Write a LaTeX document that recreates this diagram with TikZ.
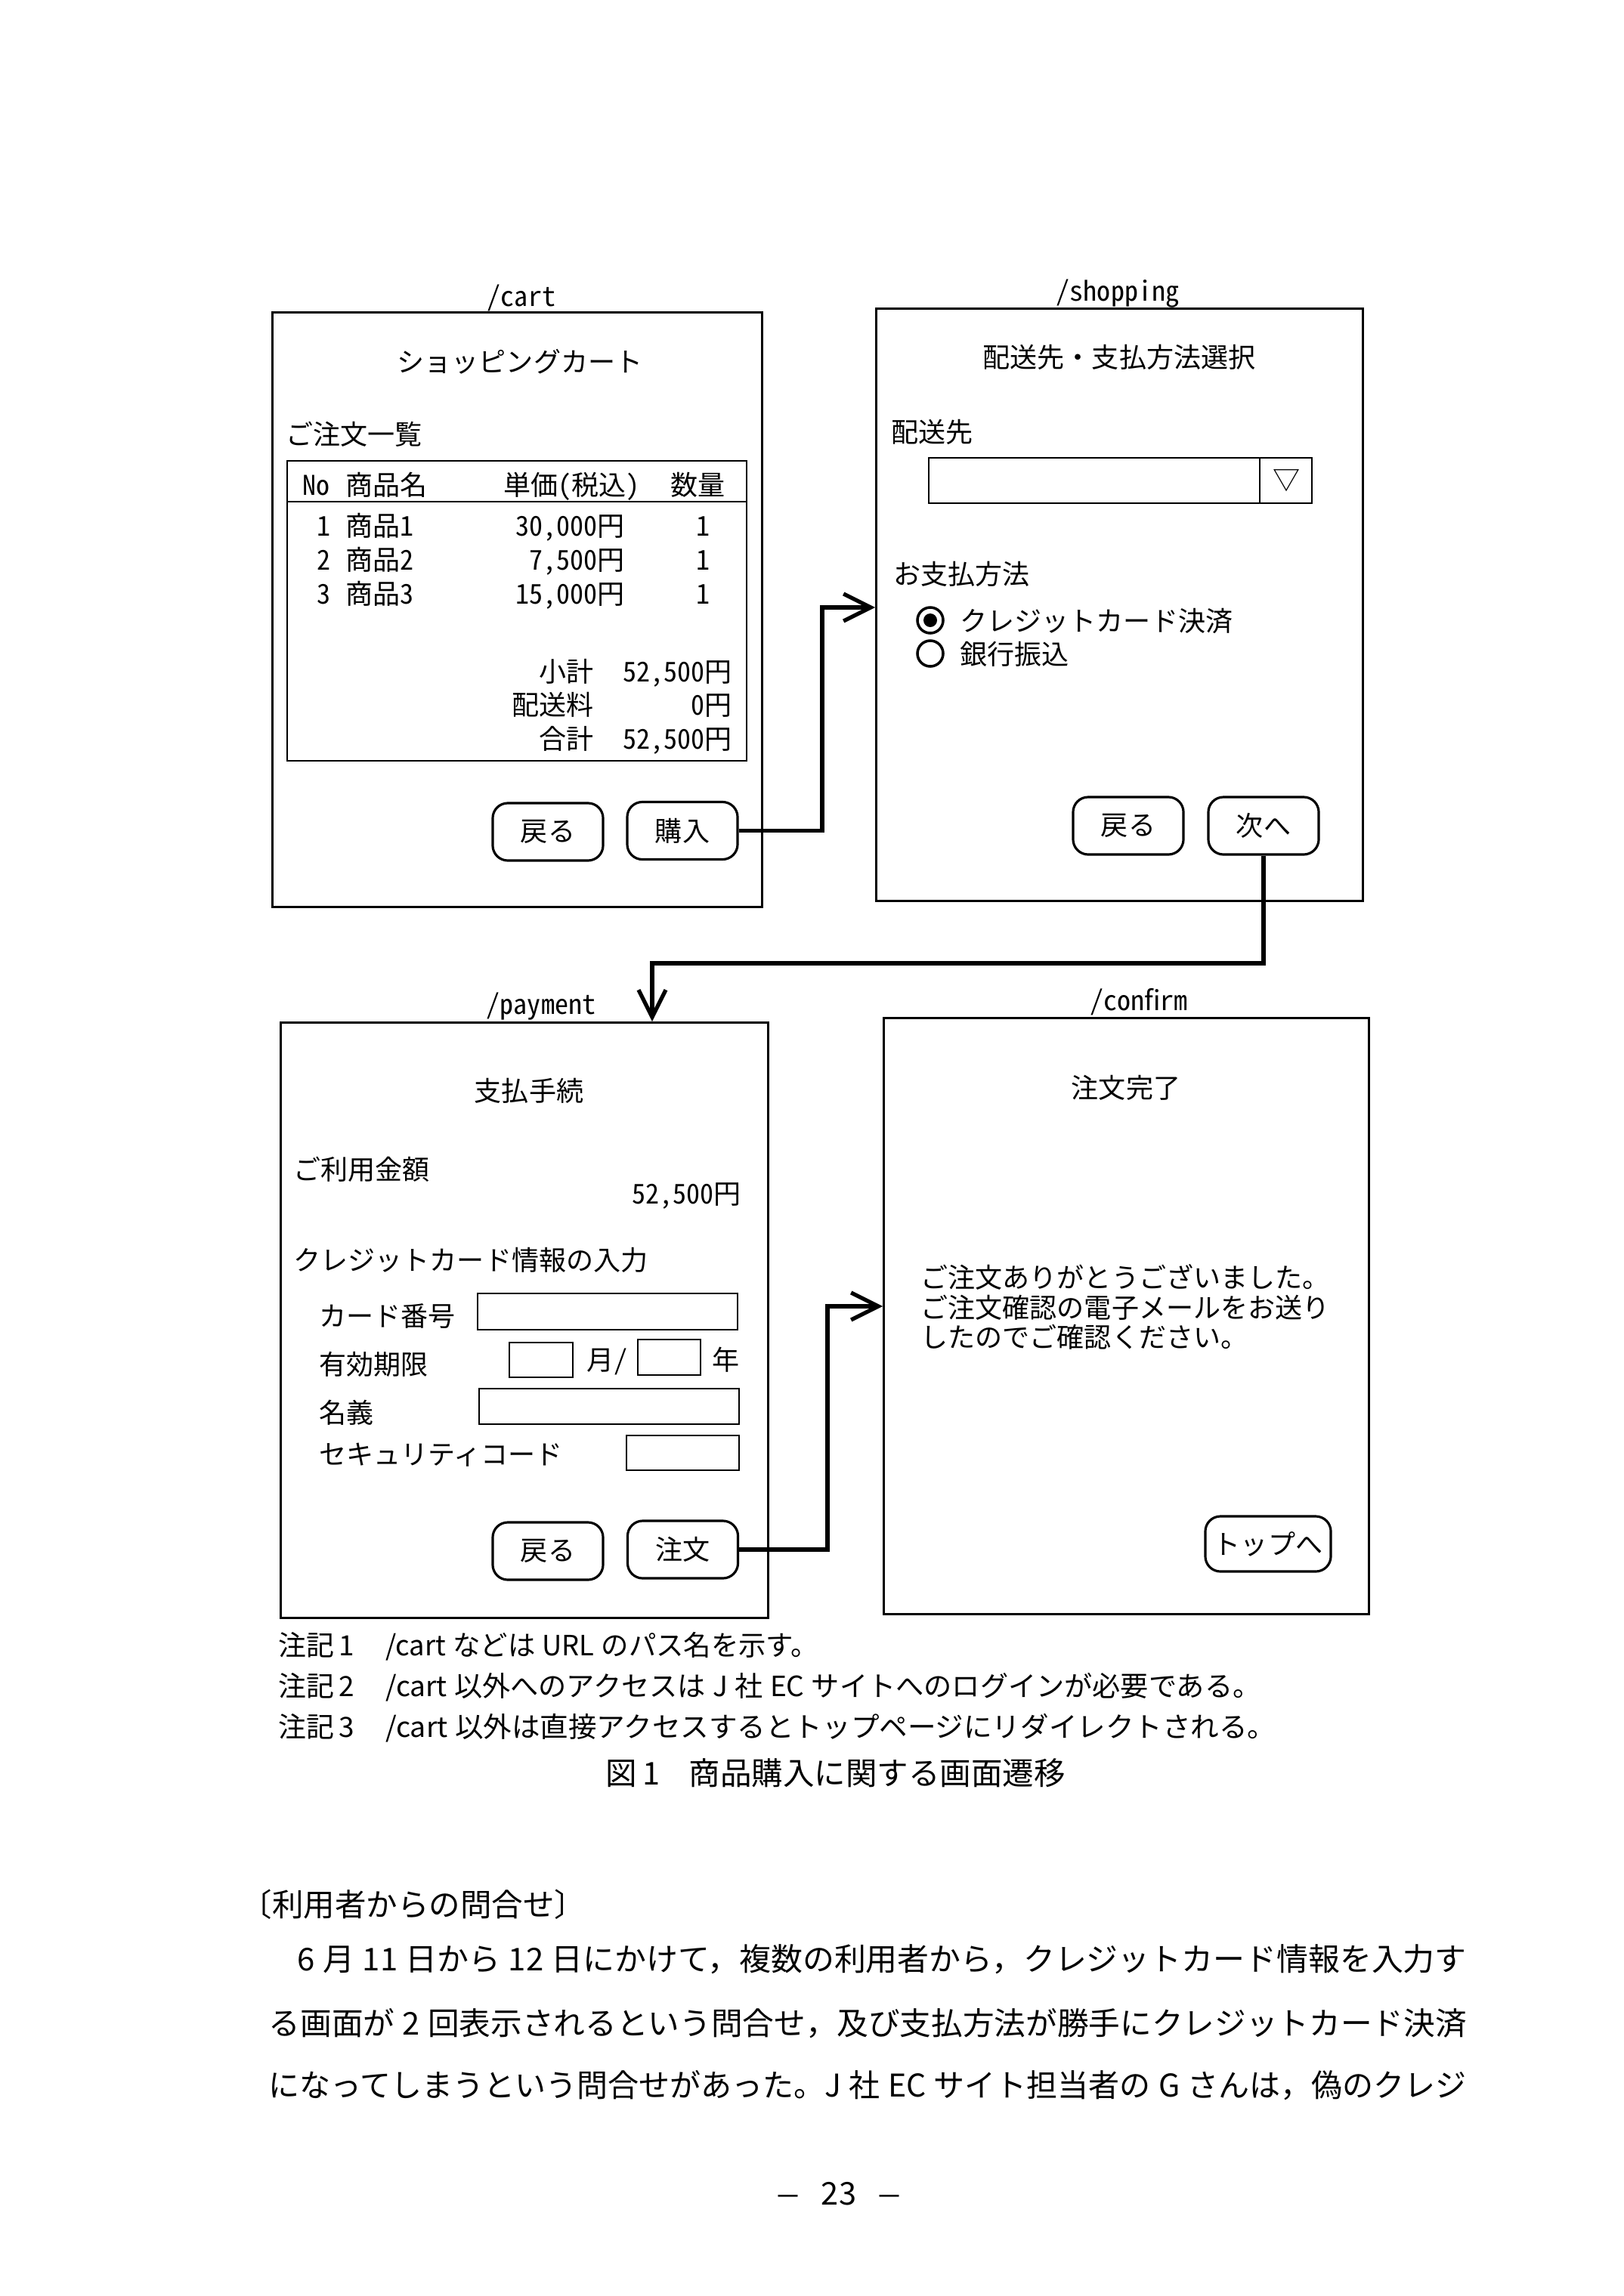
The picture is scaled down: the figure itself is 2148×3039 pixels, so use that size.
\documentclass[tikz,border=0pt]{standalone}
\usepackage{fontspec}
\usepackage{graphicx}
\setmainfont{Noto Sans CJK JP}
\newfontfamily\hwfont[RawFeature=+hwid]{Noto Sans CJK JP}
\usetikzlibrary{arrows.meta,calc}
\newcommand\dgfont{\hwfont\fontsize{10.25pt}{12pt}\selectfont}
\newcommand\notefont{\fontsize{10.5pt}{12pt}\selectfont}
\newcommand\bodyfont{\fontsize{11.8pt}{14pt}\selectfont}
\newcommand\ks{\hspace{0.25em}}
\begin{document}
\begin{tikzpicture}[x=0.01cm,y=-0.01cm,
  screen/.style={draw, line width=0.95pt, inner sep=0pt},
  btn/.style={draw, line width=0.9pt, rounded corners=0.2cm, minimum width=1.46cm, minimum height=0.76cm, inner sep=0pt, font=\dgfont},
  tx/.style={inner sep=0pt, font=\dgfont, text height=0.32cm, text depth=0.04cm},
  field/.style={draw, line width=0.8pt},
  arr/.style={line width=1.5pt, -{Straight Barb[length=3.6mm,width=3.6mm]}},
  notetx/.style={inner sep=0pt, font=\notefont, text height=0.33cm, text depth=0.05cm, anchor=west},
  bodytx/.style={inner sep=0pt, font=\bodyfont, text height=0.37cm, text depth=0.05cm, anchor=west}]
\fill[white] (0,0) rectangle (2148,3039);
\useasboundingbox (0,0) rectangle (2148,3039);

% ---------- /cart ----------
\node[screen, minimum width=6.47cm, minimum height=7.86cm] (cart) at (684.5,807) {};
\node[tx] (cartpath) at (690,391) {/cart};
\node[tx] (carttitle) at (688,478) {ショッピングカート};
\node[tx, anchor=west] (orderlist) at (378,574) {ご注文一覧};
\draw[field] (380,610) rectangle (988,1007);
\draw[field] (380,664) -- (988,664);
\node[tx, anchor=west] (hno) at (400,641) {No};
\node[tx, anchor=west] (hname) at (457,641) {商品名};
\node[tx, anchor=west] (hprice) at (666,641) {単価(税込)};
\node[tx, anchor=west] (hqty) at (887,641) {数量};
\node[tx] (no1) at (429,695) {1};
\node[tx, anchor=west] (item1) at (457,695) {商品1};
\node[tx, anchor=east] (price1) at (827,695) {30,000円};
\node[tx] (qty1) at (930,695) {1};
\node[tx] (no2) at (429,740) {2};
\node[tx, anchor=west] (item2) at (457,740) {商品2};
\node[tx, anchor=east] (price2) at (827,740) {7,500円};
\node[tx] (qty2) at (930,740) {1};
\node[tx] (no3) at (429,785) {3};
\node[tx, anchor=west] (item3) at (457,785) {商品3};
\node[tx, anchor=east] (price3) at (827,785) {15,000円};
\node[tx] (qty3) at (930,785) {1};
\node[tx, anchor=east] (subl) at (786,888) {小計};
\node[tx, anchor=east] (subv) at (969,888) {52,500円};
\node[tx, anchor=east] (shipl) at (786,932) {配送料};
\node[tx, anchor=east] (shipv) at (969,932) {0円};
\node[tx, anchor=east] (totl) at (786,977) {合計};
\node[tx, anchor=east] (totv) at (969,977) {52,500円};
\node[btn] (cartback) at (725,1101) {戻る};
\node[btn] (buy) at (903,1099.5) {購入};

% ---------- /shopping ----------
\node[screen, minimum width=6.43cm, minimum height=7.83cm] (shop) at (1481.5,800.5) {};
\node[tx] (shoppath) at (1479,384) {/shopping};
\node[tx] (shoptitle) at (1481,472) {配送先・支払方法選択};
\node[tx, anchor=west] (destl) at (1179,571) {配送先};
\draw[field] (1229,606) rectangle (1736,666);
\draw[field] (1667,606) -- (1667,666);
\node[tx] (drop) at (1702,634) {▽};
\node[tx, anchor=west] (payl) at (1182,759) {お支払方法};
\draw[line width=1pt] (1231,821) circle (0.17cm);
\fill (1231,821) circle (0.09cm);
\node[tx, anchor=west] (optcard) at (1270,821) {クレジットカード決済};
\draw[line width=1pt] (1231,865) circle (0.17cm);
\node[tx, anchor=west] (optbank) at (1270,865) {銀行振込};
\node[btn] (shopback) at (1493,1093) {戻る};
\node[btn] (next) at (1672,1093) {次へ};

% ---------- /payment ----------
\node[screen, minimum width=6.44cm, minimum height=7.87cm] (pay) at (694,1747.5) {};
\node[tx] (paypath) at (716,1328) {/payment};
\node[tx] (paytitle) at (700,1443) {支払手続};
\node[tx, anchor=west] (amountl) at (388,1547) {ご利用金額};
\node[tx, anchor=east] (amountv) at (981,1579) {52,500円};
\node[tx, anchor=west] (cardin) at (388,1667) {クレジットカード情報の入力};
\node[tx, anchor=west] (cardno) at (422,1741) {カード番号};
\draw[field] (632,1712) rectangle (976,1760);
\node[tx, anchor=west] (expiry) at (422,1805) {有効期限};
\draw[field] (674,1777) rectangle (758,1823);
\node[tx, anchor=west] (month) at (776,1799) {月/};
\draw[field] (844,1773) rectangle (927,1820);
\node[tx, anchor=west] (year) at (942,1799) {年};
\node[tx, anchor=west] (holder) at (422,1869) {名義};
\draw[field] (634,1838) rectangle (978,1885);
\node[tx, anchor=west] (cvc) at (422,1924) {セキュリティコード};
\draw[field] (829,1900) rectangle (978,1946);
\node[btn] (payback) at (725,2053) {戻る};
\node[btn] (order) at (903.5,2051) {注文};

% ---------- /confirm ----------
\node[screen, minimum width=6.41cm, minimum height=7.88cm] (conf) at (1490.5,1742) {};
\node[tx] (confpath) at (1507,1323) {/confirm};
\node[tx] (conftitle) at (1490,1439) {注文完了};
\node[tx, anchor=west] (msg1) at (1218,1690) {ご注文ありがとうございました。};
\node[tx, anchor=west] (msg2) at (1218,1730) {ご注文確認の電子メールをお送り};
\node[tx, anchor=west] (msg3) at (1218,1769) {したのでご確認ください。};
\node[btn, minimum width=1.66cm, minimum height=0.73cm] (top) at (1678,2043.5) {トップへ};

% ---------- connectors ----------
\coordinate (c1) at (1088,804);
\coordinate (c2) at (863,1275);
\coordinate (c3) at (1095,1729);
\draw[arr] (buy.east) -| (c1) -- (c1 -| shop.west);
\draw[arr] (next.south) |- (c2) -- (c2 |- pay.north);
\draw[arr] (order.east) -| (c3) -- (c3 -| conf.west);

% ---------- notes ----------
\node[notetx] (note1) at (368,2177) {\makebox[1.42cm][l]{注記\,1}\resizebox{5.72cm}{\height}{/cart\ks などは\ks URL\ks のパス名を示す。}};
\node[notetx] (note2) at (368,2231) {\makebox[1.42cm][l]{注記\,2}\resizebox{11.57cm}{\height}{/cart\ks 以外へのアクセスは\ks J\ks 社\ks EC\ks サイトへのログインが必要である。}};
\node[notetx] (note3) at (368,2285) {\makebox[1.42cm][l]{注記\,3}\resizebox{11.77cm}{\height}{/cart\ks 以外は直接アクセスするとトップページにリダイレクトされる。}};
\node[bodytx] (caption) at (801,2346) {\makebox[1.1cm][l]{図\,1}商品購入に関する画面遷移};

% ---------- body text ----------
\node[bodytx] (heading) at (318,2520) {〔利用者からの問合せ〕};
\node[bodytx] (line1) at (393,2592) {\resizebox{15.46cm}{\height}{6\ks 月\ks 11\ks 日から\ks 12\ks 日にかけて，複数の利用者から，クレジットカード情報を入力す}};
\node[bodytx] (line2) at (355,2677) {\resizebox{15.84cm}{\height}{る画面が\ks 2\ks 回表示されるという問合せ，及び支払方法が勝手にクレジットカード決済}};
\node[bodytx] (line3) at (355,2759) {\resizebox{15.84cm}{\height}{になってしまうという問合せがあった。J\ks 社\ks EC\ks サイト担当者の\ks G\ks さんは，偽のクレジ}};
\node[bodytx, anchor=center] (pageno) at (1110,2902) {\resizebox{0.29cm}{\height}{—}\hspace{0.72em}23\hspace{0.72em}\resizebox{0.29cm}{\height}{—}};
\end{tikzpicture}
\end{document}
